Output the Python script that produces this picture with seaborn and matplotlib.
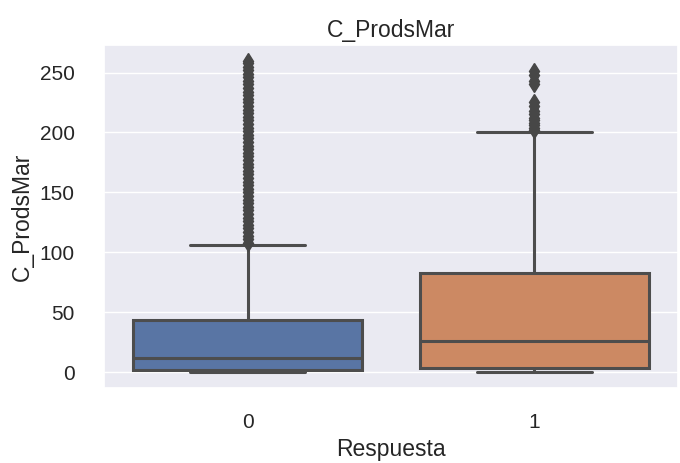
import numpy as np
import pandas as pd
import seaborn as sns
import matplotlib
matplotlib.use("Agg")
import matplotlib.pyplot as plt

# Category labels
categories = ["0", "1"]

# Group 0: frequency table of bulk values (min, Q1, median, Q3, upper whisker)
g0_values = [0, 2, 12, 44, 106]
g0_counts = [30, 60, 60, 60, 10]
g0_outliers = [108, 111, 114, 117, 120, 123, 126, 129, 132, 135, 138, 141, 144,
               147, 150, 153, 156, 159, 162, 165, 168, 171, 174, 177, 180, 183,
               186, 189, 192, 195, 198, 201, 204, 207, 210, 213, 216, 219, 222,
               225, 228, 231, 234, 237, 240, 243, 246, 249, 252, 255, 258, 260]

# Group 1
g1_values = [0, 4, 26, 83, 200]
g1_counts = [20, 40, 40, 40, 10]
g1_outliers = [202, 204, 206, 208, 210, 212, 215, 218, 222, 225, 240, 243, 248, 251]

vals0 = list(np.repeat(g0_values, g0_counts)) + g0_outliers
vals1 = list(np.repeat(g1_values, g1_counts)) + g1_outliers
df = pd.DataFrame({
    "Respuesta": [categories[0]] * len(vals0) + [categories[1]] * len(vals1),
    "C_ProdsMar": vals0 + vals1,
})

sns.set_theme(style="darkgrid")
plt.rcParams["font.family"] = ["Liberation Sans", "DejaVu Sans"]

fig, ax = plt.subplots(figsize=(6.8, 4.63), dpi=100)
fig.subplots_adjust(left=0.153, right=0.997, top=0.903, bottom=0.162)

sns.boxplot(data=df, x="Respuesta", y="C_ProdsMar", hue="Respuesta",
            palette="deep", legend=False, ax=ax, linewidth=2.2, linecolor="#4d4d4d",
            flierprops=dict(marker="d", markersize=8, markerfacecolor="#474747",
                            markeredgecolor="#474747"))

ax.set_title("C_ProdsMar", fontsize=16.5, color="#262626")
ax.set_xlabel("Respuesta", fontsize=16.5)
ax.set_ylabel("C_ProdsMar", fontsize=16.5)
ax.tick_params(axis="both", labelsize=15)
ax.tick_params(axis="y", pad=15)
ax.tick_params(axis="x", pad=12)

fig.savefig("out.png", dpi=100)
